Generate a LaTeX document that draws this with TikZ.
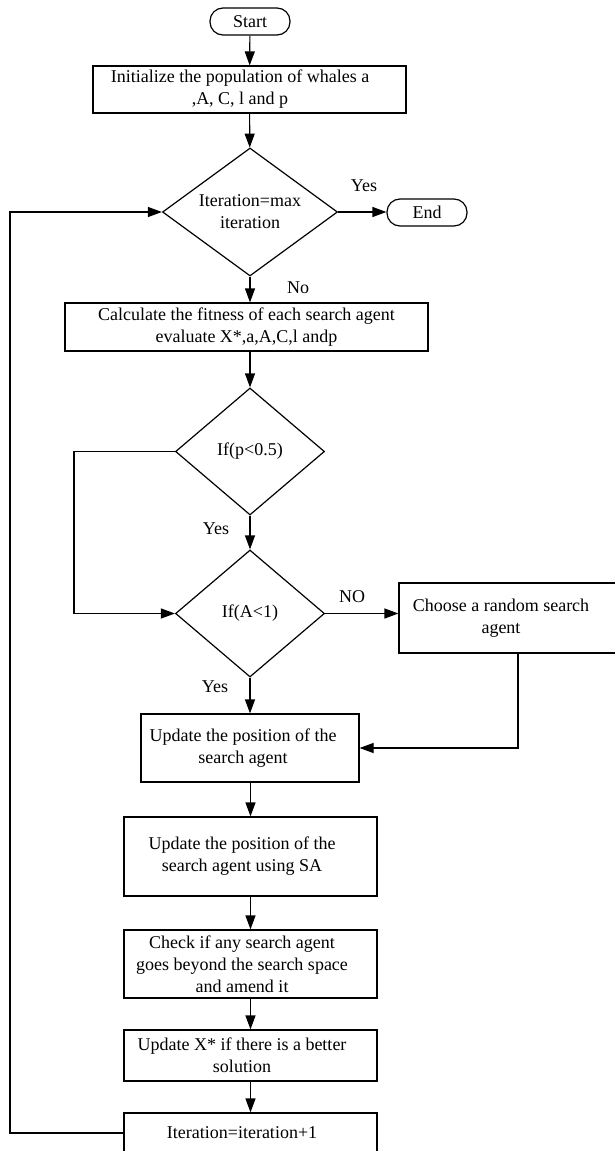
\documentclass[tikz,border=0pt]{standalone}
\usepackage{fontspec}
\setmainfont{Liberation Serif}
\usetikzlibrary{shapes.geometric,arrows.meta}

\begin{document}
\begin{tikzpicture}[x=1pt,y=-1pt,
  every node/.style={font=\fontsize{18}{22}\selectfont},
  flow/.style={line width=1.2pt},
  arr/.style={flow,-{Triangle[length=14pt,width=10pt]}},
  box/.style={draw,line width=1.2pt,rectangle,inner sep=0pt,align=center},
  term/.style={box,rounded corners=13pt},
  cond/.style={draw,line width=1.2pt,diamond,inner sep=0pt,align=center,aspect=1.37},
  txt/.style={align=center,inner sep=0pt},
  lbl/.style={inner sep=0pt}
]
\useasboundingbox (0,0) rectangle (614,1151);

% terminals
\node[term,minimum width=80pt,minimum height=27pt] (start) at (250,21.5) {Start};
\node[term,minimum width=80pt,minimum height=27pt] (end) at (427,212.5) {End};

% process boxes
\node[box,minimum width=313pt,minimum height=47pt,
  label={[txt,xshift=-9.5pt]center:{Initialize the population of whales a\\,A, C, l and p}}]
  (init) at (249.5,89.5) {};
\node[box,minimum width=363pt,minimum height=48pt] (calc) at (246.5,327)
  {Calculate the fitness of each search agent\\evaluate X*,a,A,C,l andp};
\node[box,minimum width=221pt,minimum height=70pt,
  label={[txt,xshift=-8.5pt]center:{Choose a random search\\agent}}]
  (choose) at (509.5,618) {};
\node[box,minimum width=218pt,minimum height=68pt,
  label={[txt,xshift=-7pt]center:{Update the position of the\\search agent}}]
  (upd1) at (250,748) {};
\node[box,minimum width=253pt,minimum height=79pt,
  label={[txt,xshift=-8.5pt]center:{Update the position of the\\search agent using SA}}]
  (upd2) at (250.5,856.5) {};
\node[box,minimum width=253pt,minimum height=68pt,
  label={[txt,xshift=-8.5pt]center:{Check if any search agent\\goes beyond the search space\\and amend it}}]
  (check) at (250.5,964) {};
\node[box,minimum width=253pt,minimum height=51pt,
  label={[txt,xshift=-8.5pt]center:{Update X* if there is a better\\solution}}]
  (updx) at (250.5,1055.5) {};
\node[box,minimum width=253pt,minimum height=40pt,
  label={[txt,xshift=-8.5pt]center:{Iteration=iteration+1}}]
  (iter) at (250.5,1133) {};

% decisions
\node[cond,minimum width=175pt,minimum height=128pt] (d1) at (250,212) {Iteration=max\\iteration};
\node[cond,minimum width=149pt,minimum height=127pt,aspect=1.17] (d2) at (250,451.5) {If(p<0.5)};
\node[cond,minimum width=149pt,minimum height=127pt,aspect=1.17] (d3) at (250,613.5) {If(A<1)};

% branch labels
\node[lbl] (yes1) at (364,186) {Yes};
\node[lbl] (no1) at (298,288) {No};
\node[lbl] (yes2) at (216,529) {Yes};
\node[lbl] (no2) at (352,597) {NO};
\node[lbl] (yes3) at (215,687) {Yes};

% loop corners
\coordinate (lp1) at (74,451.5);
\coordinate (lp2) at (74,613.5);
\coordinate (back1) at (10,1133);
\coordinate (back2) at (10,212);

% connectors
\draw[arr] (start) -- (init);
\draw[arr] (init) -- (d1);
\draw[arr] (d1.east) -- (d1.east -| end.west);
\draw[arr] (d1) -- (d1 |- calc.north);
\draw[arr] (calc.south -| d2) -- (d2);
\draw[arr] (d2) -- (d3);
\draw[arr] (d2.west) -- (lp1) -- (lp2) -- (d3.west);
\draw[arr] (d3.east) -- (d3.east -| choose.west);
\draw[arr] (d3) -- (upd1);
\draw[arr] ([xshift=8.5pt]choose.south) |- (upd1.east);
\draw[arr] (upd1.south -| upd2) -- (upd2);
\draw[arr] (upd2) -- (check);
\draw[arr] (check) -- (updx);
\draw[arr] (updx) -- (iter);
\draw[arr] (iter.west) -- (back1) -- (back2) -- (d1.west);
\end{tikzpicture}
\end{document}
